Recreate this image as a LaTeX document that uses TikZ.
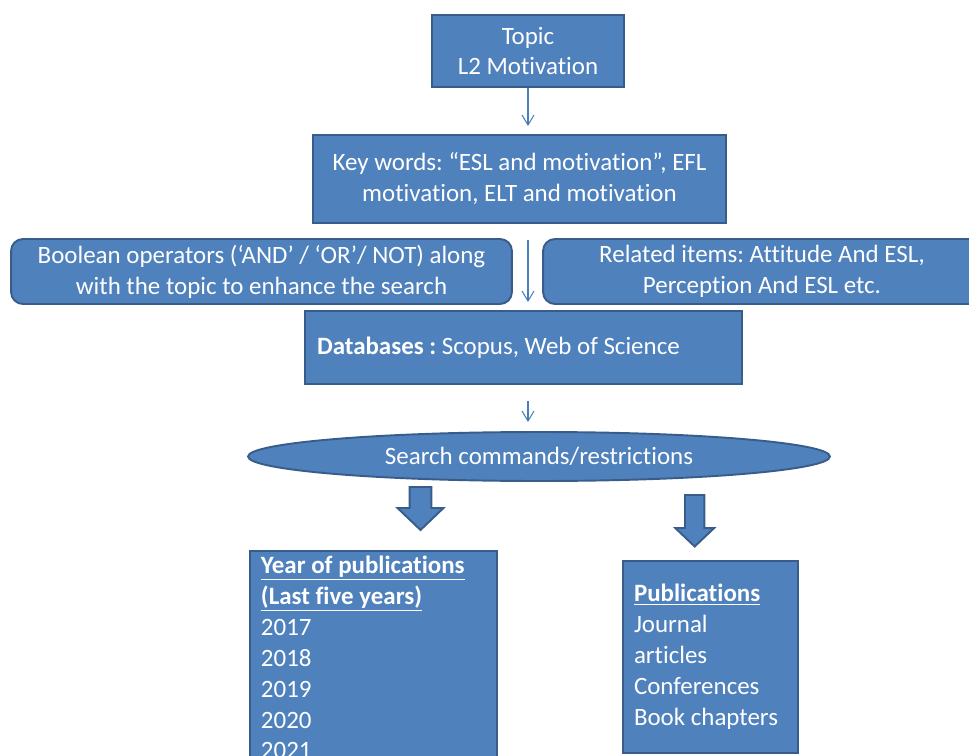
\documentclass[tikz,border=0pt]{standalone}
\usepackage{fontspec}
\setmainfont{Carlito}[Ligatures=CommonOff]
\usepackage{xcolor}
\usepackage{tikz}
\usetikzlibrary{arrows.meta,shapes.geometric}
\definecolor{boxblue}{HTML}{4F81BD}
\definecolor{boxedge}{HTML}{385D8A}
\definecolor{linkblue}{HTML}{4A7EBB}
\frenchspacing

\begin{document}
\begin{tikzpicture}[x=0.02cm, y=-0.02cm,
    every node/.style={font=\fontsize{14.2}{17.6}\selectfont, text=white},
    box/.style={draw=boxedge, fill=boxblue, line width=1.1pt, align=center, inner sep=0pt},
    roundbox/.style={box, rounded corners=0.24cm},
    thinarr/.style={draw=linkblue, line width=0.6pt, -{Straight Barb[length=2mm,width=2.4mm]}},
    blockarr/.style={draw=boxedge, fill=boxblue, line width=1.1pt, line join=miter}]
    \useasboundingbox (0,0) rectangle (969,756);
    \clip (0,0) rectangle (969,756);
    \node (topic) [box, minimum width=3.84cm, minimum height=1.44cm] at (528,51) {Topic\\L2 Motivation};
    \node (keywords) [box, minimum width=8.26cm, minimum height=1.76cm] at (519.5,179) {Key words: “ESL and motivation”, EFL\\motivation, ELT and motivation};
    \node (boolean) [roundbox, minimum width=10.02cm, minimum height=1.3cm] at (261.5,271.5) {Boolean operators (‘AND’ / ‘OR’/ NOT) along\\with the topic to enhance the search};
    \node (related) [roundbox, minimum width=8.76cm, minimum height=1.3cm] at (762,271.5) {Related items: Attitude And ESL,\\Perception And ESL etc.};
    \node (dbase) [box, minimum height=1.46cm, text width=8.26cm, inner xsep=0.24cm, align=flush left] at (523.5,347.5) {\textbf{Databases :} Scopus, Web of Science};
    \node (search) [box, ellipse, minimum width=11.64cm, minimum height=0.98cm] at (539,456.5) {Search commands/restrictions};
    \node (years) [box, anchor=north west, text width=4.5cm, inner xsep=0.22cm, inner ysep=2.8pt, align=flush left] at (249,550) {\textbf{\underline{Year of publications}}\\\textbf{\underline{(Last five years)}}\\2017\\2018\\2019\\2020\\2021};
    \node (pubs) [box, minimum width=3.5cm, minimum height=3.84cm, text width=3.06cm, inner xsep=0.22cm, align=flush left] at (710.5,657) {\textbf{\underline{Publications}}\\Journal\\articles\\Conferences\\Book chapters};
    \draw[thinarr, shorten >=0.16cm] (topic.south) -- (topic.south |- keywords.north);
    \draw[thinarr, shorten <=0.32cm, shorten >=0.16cm] (topic.south |- keywords.south) -- (topic.south |- dbase.north);
    \draw[thinarr, shorten <=0.32cm, shorten >=0.18cm] (topic.south |- dbase.south) -- (topic.south |- search.north);
    % block arrows under the oval
    \filldraw[blockarr] (409.7,487) -- (431.3,487) -- (431.3,508) -- (443.5,508) -- (420.5,530) -- (397.5,508) -- (409.7,508) -- cycle;
    \filldraw[blockarr] (685,495) -- (704.4,495) -- (704.4,528) -- (714.2,528) -- (694.7,546.5) -- (675.2,528) -- (685,528) -- cycle;
  \end{tikzpicture}
\end{document}
